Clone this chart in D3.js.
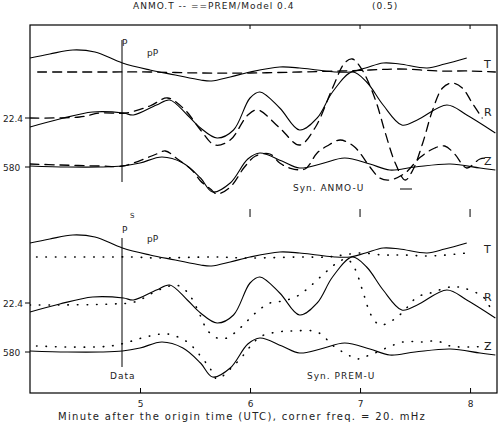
<!DOCTYPE html>
<html><head><meta charset="utf-8">
<script src="https://cdn.jsdelivr.net/npm/d3@7"></script>
<style>
html,body{margin:0;padding:0;background:#fff;}
svg text{font-family:"DejaVu Sans",sans-serif;fill:#222;}
</style></head>
<body><svg id="c" width="499" height="426"></svg>
<script>
// ---- data (time in minutes after origin, amplitude in trace units) ----
const xTicks = [5, 6, 7, 8];
const xTickLabels = ["5", "6", "7", "8"];
const components = ["T", "R", "Z"];
const ampLabels = ["", "22.4", "580"];
const traceOffsets = [0, -4.8, -9.7];

const tDataT = [4.00,4.18,4.39,4.59,4.84,5.09,5.32,5.55,5.65,5.82,6.00,6.27,6.45,6.61,6.77,6.91,7.05,7.21,7.36,7.61,7.77,7.97];
const dataT  = [1.2,1.6,2.0,1.8,0.7,0.0,-0.5,-1.0,-1.1,-0.7,-0.2,0.3,0.2,0.0,-0.2,-0.2,0.2,0.7,0.6,0.2,0.6,1.2];

const tDataR = [4.00,4.27,4.57,4.85,4.94,5.15,5.27,5.43,5.55,5.70,5.85,6.00,6.09,6.27,6.45,6.61,6.75,6.93,7.06,7.21,7.38,7.52,7.79,7.97,8.23];
const dataR  = [-0.9,-0.1,0.6,0.5,0.3,1.3,1.8,0.3,-1.0,-2.0,-1.2,2.0,2.6,1.0,-1.2,0.0,2.6,4.6,3.6,1.3,-0.7,-0.2,1.3,0.3,-1.5];

const tDataZ = [4.00,4.34,4.64,4.84,5.00,5.20,5.39,5.55,5.66,5.82,5.98,6.09,6.29,6.45,6.64,6.86,7.09,7.27,7.50,7.82,8.09,8.23];
const dataZ  = [0.1,0.0,0.0,0.1,0.4,1.0,0.4,-1.1,-2.5,-1.6,0.8,1.4,0.6,-0.1,0.3,0.9,0.3,-0.3,0.0,0.3,-0.1,-0.3];

// synthetic 1 (top panel, dashed)
const tSynAT = [4.07,4.64,5.09,5.55,6.00,6.45,6.82,7.09,7.36,7.73,8.00,8.23];
const synAT  = [-0.2,-0.2,-0.2,-0.3,-0.3,-0.2,-0.1,0.0,0.1,-0.1,-0.1,-0.2];
const tSynAR = [4.00,4.45,4.64,4.87,5.09,5.25,5.41,5.55,5.68,5.82,5.98,6.07,6.27,6.45,6.59,6.75,6.86,6.93,7.02,7.14,7.23,7.32,7.41,7.48,7.57,7.66,7.75,7.84,7.93,8.02,8.11];
const synAR  = [0.0,0.1,0.5,0.5,1.2,2.0,0.8,-1.2,-2.7,-2.2,0.3,0.8,-1.0,-2.7,-1.0,3.0,5.5,5.9,4.8,1.8,-1.5,-4.5,-6.2,-5.2,-2.5,0.8,3.0,3.5,3.0,1.5,0.0];
const tSynAZ = [4.00,4.27,4.64,4.84,5.06,5.15,5.23,5.34,5.48,5.55,5.64,5.70,5.82,5.95,6.05,6.18,6.27,6.36,6.50,6.61,6.70,6.82,6.94,7.00,7.09,7.18,7.27,7.41,7.55,7.68,7.77,7.86,7.97,8.09,8.18];
const synAZ  = [0.3,0.2,0.1,0.1,0.9,1.3,1.6,0.8,-0.4,-1.4,-2.2,-2.7,-2.0,0.0,1.1,1.3,0.4,-0.1,-0.2,1.4,2.1,2.7,2.1,1.4,0.0,-1.1,-1.3,-0.6,1.0,1.9,2.1,1.3,-0.1,0.8,0.9];

// synthetic 2 (bottom panel, dotted)
const tSynBT = [4.06,4.64,4.93,5.15,5.66,6.00,6.45,6.70,6.85,7.00,7.21,7.39,7.64,7.97];
const synBT  = [-0.2,-0.2,-0.2,-0.3,-0.2,-0.3,-0.2,-0.2,0.0,0.2,0.0,0.0,-0.1,0.2];
const tSynBR = [4.00,4.18,4.75,4.95,5.15,5.27,5.36,5.45,5.55,5.61,5.70,5.79,5.91,6.05,6.18,6.30,6.43,6.52,6.61,6.70,6.79,6.88,6.95,7.03,7.10,7.18,7.30,7.39,7.52,7.64,7.82,7.94,8.12,8.18];
const synBR  = [-0.2,-0.2,-0.1,0.1,1.2,1.7,1.7,0.8,-1.3,-2.7,-3.5,-3.5,-2.5,-1.0,0.0,0.2,0.7,1.4,2.3,3.2,4.0,4.4,3.5,1.0,-1.2,-2.2,-1.7,-0.9,0.6,1.0,1.6,1.5,0.6,-0.4];
const tSynBZ = [4.06,4.73,5.09,5.25,5.43,5.55,5.64,5.70,5.82,5.91,6.09,6.25,6.39,6.61,6.77,6.91,6.97,7.09,7.39,7.57,7.70,7.82,8.00,8.18];
const synBZ  = [0.6,0.6,1.6,1.8,1.0,-0.4,-1.7,-2.7,-1.7,-0.7,1.5,2.0,2.1,2.0,0.5,-0.4,-0.7,-0.3,1.0,1.0,1.1,0.6,0.5,0.6];

const phaseTimes = [6.0, 7.0, 8.0];

// ---- drawing ----
(function(){
const svg = d3.select("#c");
const L = 30, R = 497, T = 25, B = 393;
const x = d3.scaleLinear().domain([4.0, 8.245]).range([L, R]);
const yTop = d3.scaleLinear().domain([0, 1]).range([70, 60]);
const yBot = d3.scaleLinear().domain([0, 1]).range([255, 245]);

svg.append("defs").append("clipPath").attr("id","clip")
  .append("rect").attr("x",L).attr("y",T).attr("width",R-L).attr("height",B-T);

const g = svg.append("g").attr("clip-path","url(#clip)");

function trace(ts, vs, y, off, dash, w) {
  const pts = ts.map((t,i)=>[t, vs[i]]);
  const line = d3.line().x(d=>x(d[0])).y(d=>y(d[1]+off)).curve(d3.curveCatmullRom.alpha(0.5));
  g.append("path").attr("d", line(pts)).attr("fill","none").attr("stroke","#000")
    .attr("stroke-width", w).attr("stroke-dasharray", dash).attr("stroke-linecap", dash ? "round" : "butt");
}

const dataSets = [[tDataT,dataT],[tDataR,dataR],[tDataZ,dataZ]];
const synA = [[tSynAT,synAT],[tSynAR,synAR],[tSynAZ,synAZ]];
const synB = [[tSynBT,synBT],[tSynBR,synBR],[tSynBZ,synBZ]];

[[yTop, synA, "9,6", 1.3],[yBot, synB, "0.5,9", 1.6]].forEach(([y, syn, dash, w]) => {
  components.forEach((c,i) => {
    trace(dataSets[i][0], dataSets[i][1], y, traceOffsets[i], null, 1.1);
    trace(syn[i][0], syn[i][1], y, traceOffsets[i], dash, w);
  });
  components.forEach((c,i) => {
    svg.append("text").attr("x", 484).attr("y", y(traceOffsets[i]) - 2).attr("font-size", 11).text(c);
    if (ampLabels[i]) {
      svg.append("text").attr("x", 3).attr("y", y(traceOffsets[i]) + 4).attr("font-size", 9).text(ampLabels[i]);
      svg.append("line").attr("x1", 25).attr("x2", L).attr("y1", y(traceOffsets[i])).attr("y2", y(traceOffsets[i])).attr("stroke","#000");
    }
  });
});

// frame
svg.append("rect").attr("x",L).attr("y",T).attr("width",R-L).attr("height",B-T)
  .attr("fill","none").attr("stroke","#000").attr("stroke-width",1.2);

// P markers
const xP = 122;
svg.append("line").attr("x1",xP).attr("x2",xP).attr("y1",40).attr("y2",182).attr("stroke","#000");
svg.append("text").attr("x",xP).attr("y",46).attr("font-size",9).text("P");
svg.append("text").attr("x",147).attr("y",56).attr("font-size",9).text("pP");
svg.append("line").attr("x1",xP).attr("x2",xP).attr("y1",238).attr("y2",367).attr("stroke","#000");
svg.append("text").attr("x",xP).attr("y",233).attr("font-size",9).text("P");
svg.append("text").attr("x",130).attr("y",218).attr("font-size",7).text("S");
svg.append("text").attr("x",147).attr("y",242).attr("font-size",9).text("pP");

// phase ticks
phaseTimes.forEach(t => {
  svg.append("line").attr("x1",x(t)).attr("x2",x(t)).attr("y1",T).attr("y2",T+4).attr("stroke","#000");
  svg.append("line").attr("x1",x(t)).attr("x2",x(t)).attr("y1",209).attr("y2",217).attr("stroke","#000");
});

// legend texts
svg.append("text").attr("x",293).attr("y",191).attr("font-size",9).attr("letter-spacing",1).text("Syn. ANMO-U");
svg.append("line").attr("x1",400).attr("x2",412).attr("y1",189).attr("y2",189).attr("stroke","#000");
svg.append("text").attr("x",110).attr("y",379).attr("font-size",9).attr("letter-spacing",1).text("Data");
svg.append("text").attr("x",307).attr("y",379).attr("font-size",9).attr("letter-spacing",1).text("Syn. PREM-U");

// x axis
const ax = svg.append("g").attr("transform",`translate(0,${B})`)
  .call(d3.axisBottom(x).tickValues(xTicks).tickFormat((d,i)=>xTickLabels[i]).tickSize(-5).tickPadding(8));
ax.select(".domain").remove();
ax.selectAll("text").attr("font-size",9).attr("font-family","DejaVu Sans");
svg.append("text").attr("x",58).attr("y",420).attr("font-size",10).attr("letter-spacing",1.35)
  .text("Minute after the origin time (UTC), corner freq. = 20. mHz");

// title
svg.append("text").attr("x",133).attr("y",9).attr("font-size",9).attr("letter-spacing",1.0).text("ANMO.T  --  ==PREM/Model 0.4");
svg.append("text").attr("x",372).attr("y",9).attr("font-size",9).attr("letter-spacing",1).text("(0.5)");
})();
</script></body></html>
